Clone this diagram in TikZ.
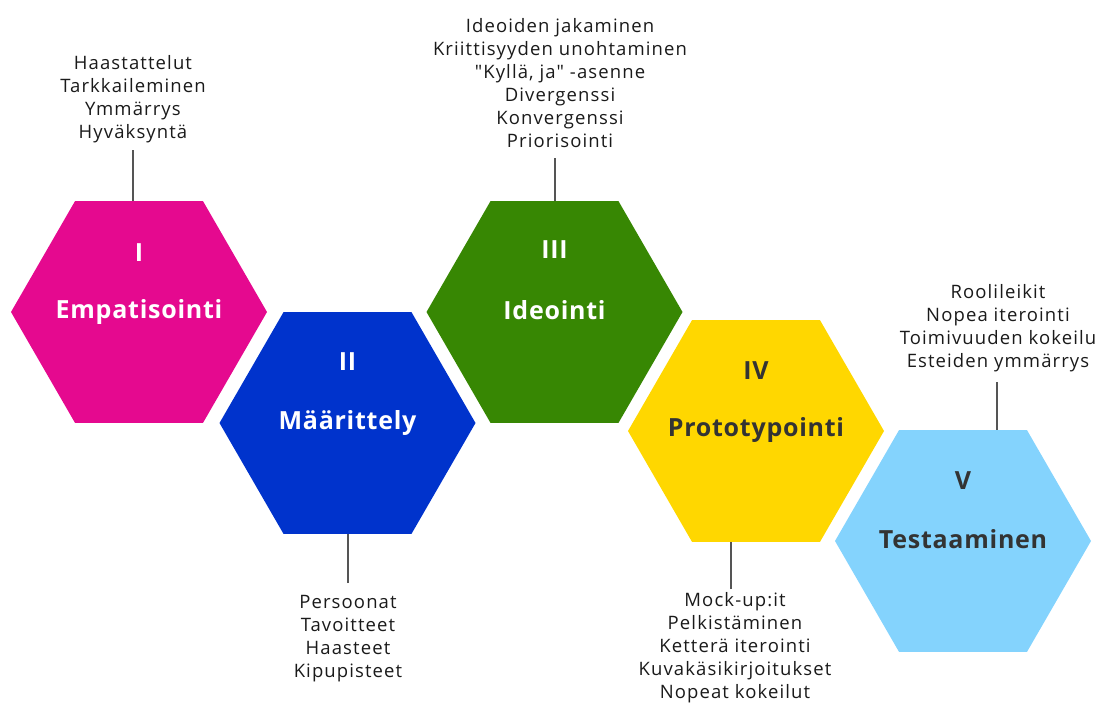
\documentclass[tikz,border=0pt]{standalone}
\usepackage{fontspec}
\setmainfont{Open Sans}
\newfontfamily\notesfont{Open Sans}[LetterSpace=6]
\newfontfamily\titlefont{Open Sans}[LetterSpace=3]
\usetikzlibrary{shapes.geometric}

\definecolor{cMag}{HTML}{E5098F}
\definecolor{cBlue}{HTML}{0033CC}
\definecolor{cGreen}{HTML}{378703}
\definecolor{cYellow}{HTML}{FFD700}
\definecolor{cSky}{HTML}{84D3FD}
\definecolor{cDark}{HTML}{333333}
\definecolor{cText}{HTML}{1A1A1A}
\definecolor{cLine}{HTML}{555555}

\tikzset{
  hexa/.style={regular polygon, regular polygon sides=6, minimum size=256pt,
    inner sep=0pt, outer sep=0pt, draw=none, fill=#1},
  numeral/.style={font=\titlefont\fontsize{25}{29}\selectfont\bfseries, text=#1, inner sep=0pt},
  phase/.style={font=\titlefont\fontsize{25}{29}\selectfont\bfseries, text=#1, inner sep=0pt},
  notes/.style={font=\notesfont\fontsize{18.5}{23}\selectfont, text=cText, align=center, inner sep=0pt},
  stem/.style={draw=cLine, line width=1.6pt}
}

\begin{document}
\begin{tikzpicture}[x=1pt, y=-1pt]
\useasboundingbox (0,0) rectangle (1108,702);

% hexagons
\node[hexa=cMag]    (h1) at (139,312) {};
\node[hexa=cBlue]   (h2) at (347.5,423) {};
\node[hexa=cGreen]  (h3) at (554.5,312) {};
\node[hexa=cYellow] (h4) at (756,431) {};
\node[hexa=cSky]    (h5) at (963,541) {};

% numerals and phase names
\node[numeral=white] (n1) at (139,253) {I};
\node[phase=white]   (p1) at (139,312) {Empatisointi};
\node[numeral=white] (n2) at (347.5,362) {II};
\node[phase=white]   (p2) at (347.5,423) {Määrittely};
\node[numeral=white] (n3) at (554.5,250) {III};
\node[phase=white]   (p3) at (554.5,310) {Ideointi};
\node[numeral=cDark] (n4) at (756,371) {IV};
\node[phase=cDark]   (p4) at (756,430) {Prototypointi};
\node[numeral=cDark] (n5) at (963,481) {V};
\node[phase=cDark]   (p5) at (963,539) {Testaaminen};

% notes
\node[notes] (l1) at (133,99) {Haastattelut\\Tarkkaileminen\\Ymmärrys\\Hyväksyntä};
\node[notes] (l2) at (348,639) {Persoonat\\Tavoitteet\\Haasteet\\Kipupisteet};
\node[notes] (l3) at (560,83) {Ideoiden jakaminen\\Kriittisyyden unohtaminen\\{\char34}Kyllä, ja{\char34} -asenne\\Divergenssi\\Konvergenssi\\Priorisointi};
\node[notes] (l4) at (735,647.5) {Mock-up:it\\Pelkistäminen\\Ketterä iterointi\\Kuvakäsikirjoitukset\\Nopeat kokeilut};
\node[notes] (l5) at (998,328) {Roolileikit\\Nopea iterointi\\Toimivuuden kokeilu\\Esteiden ymmärrys};

% stems from notes to hexagons
\coordinate (s1) at (133,150);
\coordinate (s2) at (348,583);
\coordinate (s3) at (555,158);
\coordinate (s4) at (731,589);
\coordinate (s5) at (997,382);
\draw[stem] (s1) -- (s1 |- h1.north);
\draw[stem] (s2) -- (s2 |- h2.south);
\draw[stem] (s3) -- (s3 |- h3.north);
\draw[stem] (s4) -- (s4 |- h4.south);
\draw[stem] (s5) -- (s5 |- h5.north);
\end{tikzpicture}
\end{document}
